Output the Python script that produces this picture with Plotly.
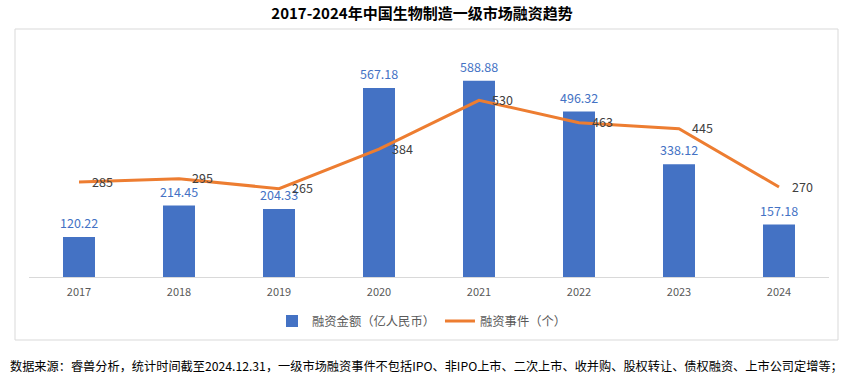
import plotly.graph_objects as go

years = ['2017', '2018', '2019', '2020', '2021', '2022', '2023', '2024']
amount = [120.22, 214.45, 204.33, 567.18, 588.88, 496.32, 338.12, 157.18]
events = [285, 295, 265, 384, 530, 463, 445, 270]
amount_labels = [f"{v:.2f}" for v in amount]
event_labels = [str(v) for v in events]

title_text = "2017-2024年中国生物制造一级市场融资趋势"
footer_text = ("数据来源：睿兽分析，统计时间截至2024.12.31，一级市场融资事件不包括IPO、非IPO上市、"
               "二次上市、收并购、股权转让、债权融资、上市公司定增等；")

W, H = 844, 380
FONT = "Noto Sans CJK SC"
BLUE = "#4472C4"
ORANGE = "#ED7D31"

def px(x):
    return x / W

def py(y):
    return 1 - y / H

fig = go.Figure()
fig.add_trace(go.Bar(
    x=years, y=amount, name="融资金额（亿人民币）",
    marker=dict(color=BLUE, line=dict(width=0)),
    width=0.32,
))
fig.add_trace(go.Scatter(
    x=years, y=events, name="融资事件（个）", yaxis="y2",
    mode="lines",
    line=dict(color=ORANGE, width=3),
))

for i, (v, lab) in enumerate(zip(amount, amount_labels)):
    fig.add_annotation(x=i, y=v, xref="x", yref="y", text=lab, showarrow=False,
                       xanchor="center", yanchor="bottom", yshift=3,
                       font=dict(color=BLUE, size=12.5, family=FONT))
for i, (v, lab) in enumerate(zip(events, event_labels)):
    fig.add_annotation(x=i, y=v, xref="x", yref="y2", text=lab, showarrow=False,
                       xanchor="left", yanchor="middle", xshift=11, yshift=1,
                       font=dict(color="#404040", size=12.5, family=FONT))

fig.update_layout(
    width=W, height=H,
    margin=dict(l=0, r=0, t=0, b=0, pad=0),
    paper_bgcolor="white", plot_bgcolor="white",
    font=dict(family=FONT, size=12, color="#595959"),
    title=dict(text=f"<b>{title_text}</b>", x=0.5, xanchor="center",
               y=py(14), yanchor="middle", yref="paper",
               font=dict(size=15, color="#000000", family=FONT)),
    xaxis=dict(domain=[px(29), px(829)], showgrid=False, type="category",
               showline=True, linecolor="#d9d9d9", linewidth=1,
               ticks="", tickfont=dict(size=11, color="#595959"),
               ticklabelstandoff=5,
               range=[-0.5, 7.5]),
    yaxis=dict(domain=[py(277), py(43.7)], range=[0, 700],
               visible=False, showgrid=False),
    yaxis2=dict(overlaying="y", range=[0, 700], visible=False, showgrid=False),
    legend=dict(orientation="h", x=0.5, xanchor="center", y=py(321), yanchor="middle",
                font=dict(size=12.3, color="#595959"), itemwidth=30,
                traceorder="normal"),
    showlegend=True,
    bargap=0.68,
)

fig.add_shape(type="rect", xref="paper", yref="paper",
              x0=px(15), x1=px(838), y0=py(340), y1=py(29),
              line=dict(color="#d9d9d9", width=1), fillcolor="rgba(0,0,0,0)", layer="below")

fig.add_annotation(text=footer_text, xref="paper", yref="paper",
                   x=px(8), y=py(366), xanchor="left", yanchor="middle",
                   showarrow=False, font=dict(size=12.2, color="#000000", family=FONT))

fig.write_html("out.html", config={"displayModeBar": False},
               post_script="document.body.style.margin='0';document.body.style.overflow='hidden';")
